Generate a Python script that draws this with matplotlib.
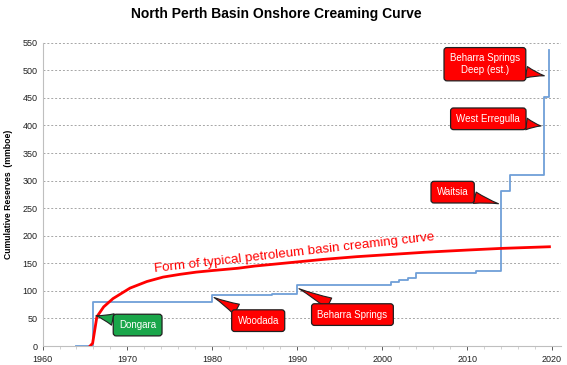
import matplotlib
matplotlib.use("Agg")
import matplotlib.pyplot as plt
from matplotlib.ticker import MultipleLocator

# Discovery step curve (cumulative reserves, mmboe)
step_years = [1964.0, 1965.9, 1980.0, 1987.0, 1990.0, 2001.0, 2002.0, 2003.0, 2004.0, 2011.0, 2014.0, 2015.0, 2019.1, 2019.6]
step_values = [0, 79, 92, 94, 111, 116, 120, 123, 132, 136, 281, 311, 452, 537]

# Typical creaming curve
curve_years = [1965.6, 1965.9, 1966.4, 1967.2, 1968.3, 1970.3, 1972.3, 1974.2, 1976.2, 1978.1,
               1980.1, 1983.0, 1985.0, 1989.0, 1993.0, 1997.0, 2001.0, 2005.0, 2010.0, 2014.0, 2019.7]
curve_values = [0, 5, 53, 71, 86, 105, 117, 125, 130, 134,
                137, 141, 145, 151, 157, 162, 166, 170, 174, 177, 180]

# Field callouts: label, box centre (year, value), pointer (year, value), colour
labels = ["Dongara", "Woodada", "Beharra Springs", "Waitsia", "West Erregulla", "Beharra Springs\nDeep (est.)"]
label_pos = [(1971.2, 38), (1985.4, 46), (1996.5, 57), (2008.3, 279), (2012.5, 412), (2012.1, 511)]
label_tip = [(1966.3, 55), (1980.2, 88), (1990.2, 104), (2013.7, 258), (2018.7, 399), (2019.1, 490)]
label_colors = ["#1aa64a", "#ff0000", "#ff0000", "#ff0000", "#ff0000", "#ff0000"]

x_ticks = [1960, 1970, 1980, 1990, 2000, 2010, 2020]
y_ticks = list(range(0, 551, 50))

FONT = "Liberation Sans"

fig = plt.figure(figsize=(5.67, 3.65), dpi=100)
ax = fig.add_axes([0.075, 0.052, 0.915, 0.831])

ax.step(step_years, step_values, where="post", color="#6f9fd8", lw=1.3, zorder=3)
ax.plot(curve_years, curve_values, color="#ff0000", lw=2.0, zorder=4)

ax.set_xlim(1960, 2021.1)
ax.set_ylim(0, 550)
ax.set_xticks(x_ticks)
ax.set_yticks(y_ticks)
ax.xaxis.set_minor_locator(MultipleLocator(2))
ax.grid(axis="y", linestyle=(0, (2, 2)), color="#a6a6a6", lw=0.7)
for s in ["top", "right"]:
    ax.spines[s].set_visible(False)
ax.spines["left"].set_color("#bfbfbf")
ax.spines["bottom"].set_color("#bfbfbf")
ax.tick_params(axis="both", labelsize=6.5, colors="#404040", length=3, width=0.6, labelcolor="#202020")
ax.tick_params(axis="x", which="minor", length=2, width=0.5, colors="#bfbfbf")
ax.tick_params(axis="y", length=0)
for lab in ax.get_xticklabels() + ax.get_yticklabels():
    lab.set_family(FONT)

ax.set_ylabel("Cumulative Reserves  (mmboe)", fontsize=6.2, fontweight="bold",
              family=FONT, labelpad=7)

fig.text(0.487, 0.962, "North Perth Basin Onshore Creaming Curve", ha="center", va="center",
         fontsize=10, fontweight="bold", family=FONT)

ax.text(1989.6, 169, "Form of typical petroleum basin creaming curve", color="#ff0000",
        fontsize=9.6, rotation=6.5, ha="center", va="center", family=FONT,
        rotation_mode="anchor")

for lab, pos, tip, col in zip(labels, label_pos, label_tip, label_colors):
    ax.annotate(lab, xy=tip, xytext=pos, ha="center", va="center", color="white",
                fontsize=7, family=FONT, zorder=6, linespacing=1.2,
                bbox=dict(boxstyle="round,pad=0.6,rounding_size=0.3", fc=col, ec="#202020", lw=0.9),
                arrowprops=dict(arrowstyle="wedge,tail_width=1.2,shrink_factor=0.4", fc=col,
                                ec="#202020", lw=0.8, shrinkA=0, shrinkB=0))

fig.savefig("out.png", dpi=100)
